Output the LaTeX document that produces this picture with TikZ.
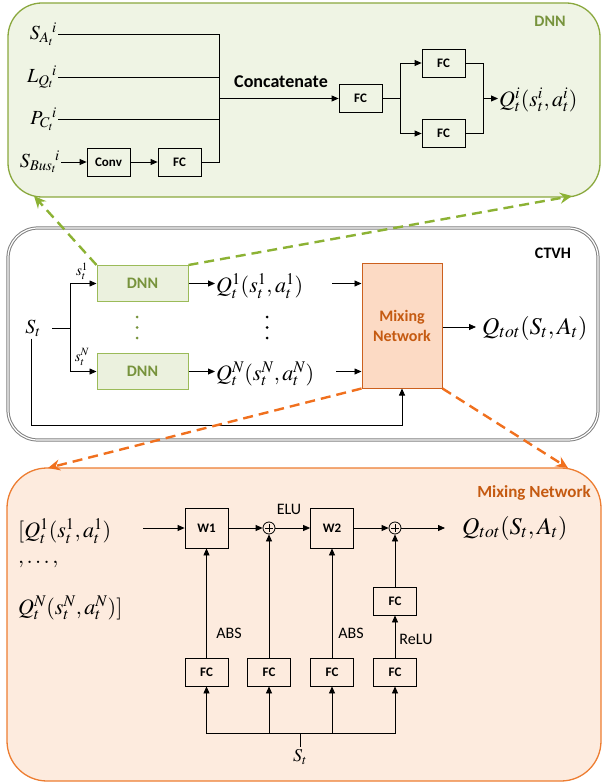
\documentclass[tikz,border=0pt]{standalone}
\usepackage{mathptmx}
\usepackage[no-math]{fontspec}
\setmainfont{Carlito}
\usetikzlibrary{arrows.meta}

\definecolor{dnnpanel}{RGB}{239,244,228}
\definecolor{dnnedge}{RGB}{138,168,62}
\definecolor{dnnboxfill}{RGB}{235,241,222}
\definecolor{dnnboxedge}{RGB}{155,187,89}
\definecolor{dnntext}{RGB}{119,147,60}
\definecolor{dnndash}{RGB}{140,178,52}
\definecolor{mixpanel}{RGB}{253,235,222}
\definecolor{mixedge}{RGB}{237,125,49}
\definecolor{mixboxfill}{RGB}{252,218,196}
\definecolor{mixboxedge}{RGB}{204,96,30}
\definecolor{mixtext}{RGB}{197,90,17}
\definecolor{mixdash}{RGB}{240,112,30}
\definecolor{ctvhedge}{RGB}{128,128,128}

\tikzset{
  wire/.style={line width=0.8pt},
  arr/.style={wire, -{Triangle[length=7pt,width=6pt]}},
  fcbox/.style={draw, line width=0.8pt, minimum width=43pt, minimum height=28pt,
    inner sep=0pt, font=\bfseries\fontsize{13}{13}\selectfont},
  wbox/.style={fcbox, minimum height=40pt},
  mathlbl/.style={font=\fontsize{22}{26}\selectfont, inner sep=1pt},
  biglbl/.style={font=\fontsize{24}{28}\selectfont, inner sep=1pt},
  inlbl/.style={font=\fontsize{20}{24}\selectfont, inner sep=1pt, anchor=east},
  smalllbl/.style={font=\fontsize{15}{17}\selectfont, inner sep=1pt},
  sumnode/.style={circle, draw, line width=0.8pt, minimum size=12pt, inner sep=0pt},
  plainlbl/.style={font=\fontsize{16}{18}\selectfont, inner sep=1pt},
  titlelbl/.style={font=\bfseries\fontsize{16}{18}\selectfont, inner sep=1pt},
  dnnbox/.style={draw=dnnboxedge, fill=dnnboxfill, line width=1pt,
    minimum width=91pt, minimum height=36pt, text=dnntext,
    font=\bfseries\fontsize{16}{18}\selectfont},
  zoomarrow/.style={line width=2.4pt, dash pattern=on 10pt off 6pt,
    -{Stealth[length=12pt,width=11pt,inset=4pt]}},
}

\begin{document}
\begin{tikzpicture}[x=1pt,y=-1pt]
\useasboundingbox (0,0) rectangle (603,783);

% ---------------- panels ----------------
\node[draw=dnnedge, fill=dnnpanel, line width=1.3pt, rounded corners=34pt,
  minimum width=592pt, minimum height=194pt] (dnnpanel) at (304,100) {};
\node[draw=ctvhedge, double=white, double distance=1.2pt, line width=1pt,
  rounded corners=30pt, minimum width=590pt, minimum height=212pt] (ctvh) at (303,334) {};
\node[draw=mixedge, fill=mixpanel, line width=1.3pt, rounded corners=40pt,
  minimum width=594pt, minimum height=313pt] (mixpanel) at (304,624.5) {};

% ---------------- DNN detail ----------------
\node[titlelbl, text=dnntext] (dnntitle) at (550,21) {DNN};

\node[inlbl] (sa) at (58,34)  {$S_{A_t}{}^{\!i}$};
\node[inlbl] (lq) at (58,77)  {$L_{Q_t}{}^{\!i}$};
\node[inlbl] (pc) at (58,119) {$P_{C_t}{}^{\!i}$};
\node[inlbl] (sb) at (61,162) {$S_{Bus_t}{}^{\!i}$};

\node[fcbox] (conv) at (108.5,162) {Conv};
\node[fcbox] (fc0)  at (179.5,162) {FC};

\coordinate (bt) at (219,34);
\coordinate (bb) at (219,162);
\coordinate (cat) at (219,98.5);

\draw[wire] (sa.east) -- (sa.east -| bt);
\draw[wire] (lq.east) -- (lq.east -| bt);
\draw[wire] (pc.east) -- (pc.east -| bt);
\draw[arr] (sb.east) -- (conv);
\draw[arr] (conv) -- (fc0);
\draw[wire] (fc0.east) -- (bb) -- (bt);

\node[titlelbl, font=\bfseries\fontsize{18}{20}\selectfont] (cattxt) at (281,82) {Concatenate};

\node[fcbox] (fc1) at (360.5,98.5) {FC};
\node[fcbox] (fc2) at (443.5,63)   {FC};
\node[fcbox] (fc3) at (443.5,133.5) {FC};
\coordinate (split) at (400,98.5);
\coordinate (merge) at (483,98.5);

\draw[arr] (cat) -- (fc1);
\draw[wire] (fc1.east) -- (split);
\draw[arr] (split) |- (fc2.west);
\draw[arr] (split) |- (fc3.west);
\draw[wire] (fc2.east) -| (merge);
\draw[wire] (fc3.east) -| (merge);
\node[mathlbl, anchor=west] (qi) at (498,100) {$Q_t^i(s_t^i,a_t^i)$};
\draw[arr] (merge) -- (qi.west |- merge);

% ---------------- CTVH ----------------
\node[titlelbl] (ctvhtitle) at (553,253) {CTVH};

\node[dnnbox] (dnn1) at (142.5,283.5) {DNN};
\node[dnnbox] (dnn2) at (142.5,371.5) {DNN};

\node[font=\fontsize{20}{24}\selectfont, inner sep=2pt] (st) at (33,328) {$S_t$};
\coordinate (fork) at (70,328);
\draw[wire] (st.east -| 52,0) -- (fork);
\draw[arr] (fork) |- (dnn1.west);
\draw[arr] (fork) |- (dnn2.west);
\node[smalllbl] (s1) at (82,271) {$s_t^1$};
\node[smalllbl] (sN) at (82,357) {$s_t^N$};

\foreach \yy in {317,327.5,338} {
  \fill[dnntext] (137,\yy) circle (1.5pt);
  \fill (267,\yy) circle (1.5pt);
}

\node[mathlbl, anchor=west] (q1) at (215,286) {$Q_t^1(s_t^1,a_t^1)$};
\node[mathlbl, anchor=west] (qN) at (215,374) {$Q_t^N(s_t^N,a_t^N)$};
\draw[arr] (dnn1.east) -- (q1.west |- dnn1.east);
\draw[arr] (dnn2.east) -- (qN.west |- dnn2.east);

\node[draw=mixboxedge, fill=mixboxfill, line width=1pt, minimum width=80pt,
  minimum height=124pt, text=mixtext, align=center,
  font=\bfseries\fontsize{16}{20}\selectfont] (mix) at (402,326) {Mixing\\Network};

\coordinate (in1) at (332,283.5);
\coordinate (inN) at (336,371.5);
\draw[arr] (in1) -- (in1 -| mix.west);
\draw[arr] (inN) -- (inN -| mix.west);

\node[biglbl, anchor=west] (qtot) at (481,328) {$Q_{tot}(S_t,A_t)$};
\draw[arr] (mix.east |- 0,327) -- (476,327);

\coordinate (loop) at (31,425);
\draw[arr] (st.south -| loop) -- (loop) -| (mix.south);

% ---------------- Mixing network detail ----------------
\node[titlelbl, text=mixtext, font=\bfseries\fontsize{17}{20}\selectfont] (mixtitle) at (534,493) {Mixing Network};

\node[mathlbl, anchor=west] (ql1) at (17,531) {$[Q_t^1(s_t^1,a_t^1)$};
\node[mathlbl, anchor=west] (qld) at (17,564) {$,\ldots,$};
\node[mathlbl, anchor=west] (qlN) at (17,608) {$Q_t^N(s_t^N,a_t^N)]$};

\node[wbox] (w1) at (206.5,528) {W1};
\node[wbox] (w2) at (332,528) {W2};
\node[sumnode] (sum1) at (269,528) {};
\node[sumnode] (sum2) at (395,528) {};
\foreach \s in {sum1,sum2} {
  \draw[line width=0.6pt] ([yshift=3.6pt]\s.center) -- ([yshift=-3.6pt]\s.center);
  \draw[line width=0.6pt] ([xshift=-3.6pt]\s.center) -- ([xshift=3.6pt]\s.center);
}

\node[fcbox] (fca) at (206.5,672) {FC};
\node[fcbox] (fcb) at (269,672) {FC};
\node[fcbox] (fcc) at (332,672) {FC};
\node[fcbox] (fcd) at (395,672) {FC};
\node[fcbox] (fce) at (395,601) {FC};

\coordinate (qin) at (143,528);
\coordinate (qout) at (445,528);
\draw[arr] (qin) -- (w1);
\draw[arr] (w1) -- (sum1);
\draw[arr] (sum1) -- (w2);
\draw[arr] (w2) -- (sum2);
\draw[arr] (sum2) -- (qout);
\node[biglbl, anchor=west] (qtot2) at (461,528) {$Q_{tot}(S_t,A_t)$};
\node[plainlbl] (elu) at (289,509) {ELU};

\draw[arr] (fca) -- (w1);
\draw[arr] (fcb) -- (sum1);
\draw[arr] (fcc) -- (w2);
\draw[arr] (fcd) -- (fce);
\draw[arr] (fce) -- (sum2);
\node[plainlbl] (abs1) at (229,633) {ABS};
\node[plainlbl] (abs2) at (351,633) {ABS};
\node[plainlbl] (relu) at (416,639) {ReLU};

\coordinate (bus) at (300,733);
\draw[arr] (bus) -| (fca.south);
\draw[arr] (bus) -| (fcb.south);
\draw[arr] (bus) -| (fcc.south);
\draw[arr] (bus) -| (fcd.south);
\node[font=\fontsize{18}{20}\selectfont, inner sep=2pt, anchor=north] (stb) at (300,747) {$S_t$};
\draw[wire] (bus) -- (stb.north);

% ---------------- zoom connectors ----------------
\coordinate (dnnleft) at (34,196);
\coordinate (dnnright) at (572,196);
\coordinate (mixleft) at (48,468);
\coordinate (mixright) at (568,468);
\draw[zoomarrow, dnndash] (dnn1.north west) -- (dnnleft);
\draw[zoomarrow, dnndash] (dnn1.north east) -- (dnnright);
\draw[zoomarrow, mixdash] (mix.south west) -- (mixleft);
\draw[zoomarrow, mixdash] (mix.south east) -- (mixright);

\end{tikzpicture}
\end{document}
